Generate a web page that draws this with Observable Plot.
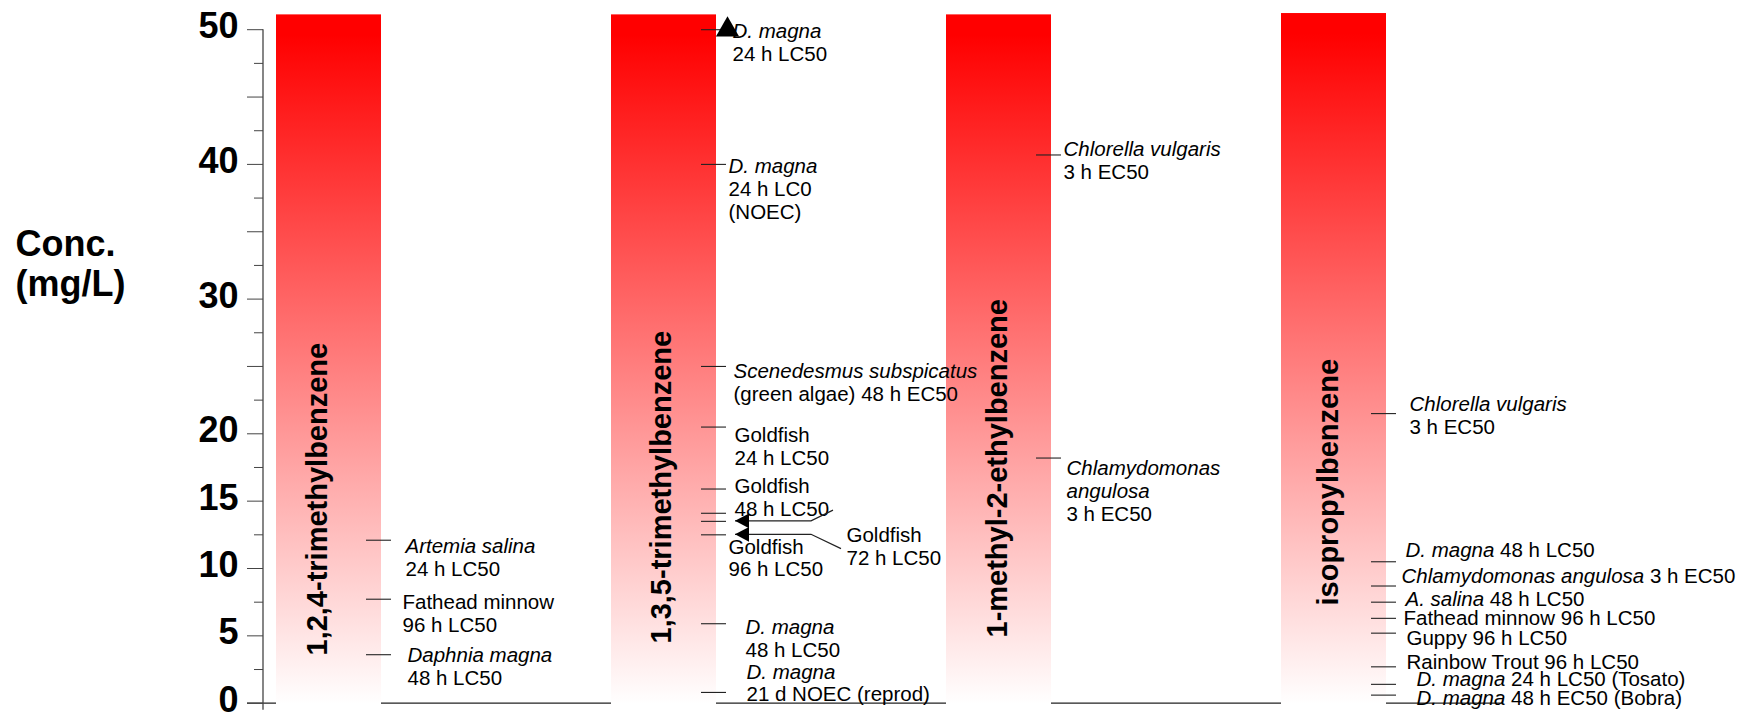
<!DOCTYPE html>
<html>
<head>
<meta charset="utf-8">
<script src="https://cdn.jsdelivr.net/npm/d3@7"></script>
<script src="https://cdn.jsdelivr.net/npm/@observablehq/plot@0.6"></script>
<style>
  html, body { margin: 0; padding: 0; background: #fff; overflow: hidden; }
  #chart svg { display: block; }
</style>
</head>
<body>
<div id="chart"></div>
<script>
// ---- Data ---------------------------------------------------------------
// One fading column per compound; each column spans 0 to just above 50 mg/L.
const compounds = ["1,2,4-trimethylbenzene", "1,3,5-trimethylbenzene", "1-methyl-2-ethylbenzene", "isopropylbenzene"];
const columnTop = [51.1, 51.1, 51.1, 51.2];

// Toxicity endpoints in mg/L. Text between underscores is set in italics.
const tmb124Values = [12.1, 7.72, 3.6];
const tmb124Labels = [
  "_Artemia salina_\n24 h LC50",
  "Fathead minnow\n96 h LC50",
  "_Daphnia magna_\n48 h LC50"
];

const tmb135Values = [50, 40, 25, 20.5, 15.9, 14.1, 13.5, 12.5, 5.9, 0.8];
const tmb135Labels = [
  "_D. magna_\n24 h LC50",
  "_D. magna_\n24 h LC0\n(NOEC)",
  "_Scenedesmus subspicatus_\n(green algae) 48 h EC50",
  "Goldfish\n24 h LC50",
  "Goldfish\n48 h LC50",
  "",
  "Goldfish\n72 h LC50",
  "Goldfish\n96 h LC50",
  "_D. magna_\n48 h LC50",
  "_D. magna_\n21 d NOEC (reprod)"
];

const meb12Values = [40.7, 18.2];
const meb12Labels = [
  "_Chlorella vulgaris_\n3 h EC50",
  "_Chlamydomonas_\n_angulosa_\n3 h EC50"
];

const cumeneValues = [21.5, 10.5, 8.7, 7.5, 6.3, 5.2, 2.7, 1.4, 0.6];
const cumeneLabels = [
  "_Chlorella vulgaris_\n3 h EC50",
  "_D. magna_ 48 h LC50",
  "_Chlamydomonas angulosa_ 3 h EC50",
  "_A. salina_ 48 h LC50",
  "Fathead minnow 96 h LC50",
  "Guppy 96 h LC50",
  "Rainbow Trout 96 h LC50",
  "_D. magna_ 24 h LC50 (Tosato)",
  "_D. magna_ 48 h EC50 (Bobra)"
];

// The goldfish 72 h label points at two values with arrows.
const goldfish72hTargets = [13.5, 12.5];
// Lower-bound result (> 50 mg/L), flagged with an upward triangle.
const lowerBoundCompound = [compounds[1]];
const lowerBoundValue = [50];

// Y axis ticks
const majorTicks = [0, 5, 10, 15, 20, 25, 30, 35, 40, 45, 50];
const minorTicks = [2.5, 7.5, 12.5, 17.5, 22.5, 27.5, 32.5, 37.5, 42.5, 47.5];
const labeledTicks = [0, 5, 10, 15, 20, 30, 40, 50];
const yTitle = "Conc.\n(mg/L)";

// ---- Layout -------------------------------------------------------------
const W = 1741, H = 713;
const barWidth = 105, barStep = 335.5, firstBarLeft = 275.5;
// Label placement per endpoint: [gap right of the column, vertical nudge of the first line]
const labelNudges = [
  [24, -2], [21, -5], [26, -7],
  [16, -6.6], [12, -5.7], [17, -3.3], [18, 0], [18, -10.4], [0, 0], [130, 6], [12, 4], [29, -4], [30, -28.6],
  [12, -14], [15, 2],
  [23, -17.7], [19, -19], [15, -17.7], [19, -11], [17, -7.6], [20, -2.7], [20, -12.7], [30, -13.3], [30, -5]
];
// Bent connectors for the 72 h arrows: [bend gap, end gap, end rise]
const arrowBends = [[95, 117, -10.7], [95, 125, 14.3]];
// Rotated compound names: lift above the baseline and sideways shift
const nameLift = [47.7, 59.7, 65.7, 97.7];
const nameShift = [-11, -2, -1.5, -5];

// ---- Tables for the marks -----------------------------------------------
const groups = [
  [compounds[0], tmb124Values, tmb124Labels],
  [compounds[1], tmb135Values, tmb135Labels],
  [compounds[2], meb12Values, meb12Labels],
  [compounds[3], cumeneValues, cumeneLabels]
];
const endpoints = groups.flatMap(([compound, values, labels]) =>
  values.map((value, i) => ({compound, value, label: labels[i]})));
endpoints.forEach((d, i) => { d.gap = labelNudges[i][0]; d.nudge = labelNudges[i][1]; });

const columns = compounds.map((compound, i) => ({compound, top: columnTop[i]}));
const lowerBounds = lowerBoundCompound.map((compound, i) => ({compound, value: lowerBoundValue[i]}));

const NS = "http://www.w3.org/2000/svg";

// Gradient fill, the y-axis spine and the bent arrows to the 72 h label.
function decorations(index, scales, values, dimensions) {
  const {x, y} = scales;
  const g = document.createElementNS(NS, "g");
  const ml = dimensions.marginLeft;
  const right = x(compounds[1]) + x.bandwidth();
  let html = `<defs><linearGradient id="column-fade" x1="0" y1="0" x2="0" y2="1">
      <stop offset="0" stop-color="#ff0000"/>
      <stop offset="0.03" stop-color="#ff0000"/>
      <stop offset="1" stop-color="#ffffff"/>
    </linearGradient></defs>`;
  html += `<line x1="${ml}" x2="${ml}" y1="${y(50)}" y2="${y(0) + 7}" stroke="#444" stroke-width="1.3"/>`;
  goldfish72hTargets.forEach((v, i) => {
    const yy = y(v);
    const [bend, end, rise] = arrowBends[i];
    html += `<path d="M${right + 19},${yy}H${right + bend}L${right + end},${yy + rise}" fill="none" stroke="#222" stroke-width="1.2"/>`;
    html += `<path d="M${right + 19},${yy}l14,-7.3v14.6z" fill="#000"/>`;
  });
  g.innerHTML = html;
  return g;
}

const chart = Plot.plot({
  width: W,
  height: H,
  marginLeft: 263,
  marginRight: 239,
  marginTop: 29.2,
  marginBottom: 10.3,
  style: {fontFamily: "'Liberation Sans', Arial, sans-serif", fontSize: "20.5px", color: "#000", background: "#fff"},
  x: {
    type: "band",
    domain: compounds,
    range: [firstBarLeft, firstBarLeft + 3 * barStep + barWidth],
    paddingInner: 1 - barWidth / barStep,
    paddingOuter: 0,
    axis: null
  },
  y: {domain: [0, 50], label: null, axis: null},
  marks: [
    Plot.ruleY([0], {stroke: "#222", strokeWidth: 1.3, insetLeft: -16}),
    Plot.barY(columns, {x: "compound", y: "top", fill: "url(#column-fade)", insetBottom: -1.5}),
    Plot.axisY({ticks: minorTicks, tickSize: 9, tickFormat: () => "", stroke: "#444", label: null}),
    Plot.axisY({ticks: majorTicks, tickSize: 16, tickFormat: () => "", stroke: "#444", label: null}),
    Plot.axisY({
      ticks: labeledTicks, tickSize: 0, tickPadding: 25, dy: -3,
      fontSize: 36, fontWeight: "bold", label: null
    }),
    Plot.text([yTitle], {
      frameAnchor: "top-left", text: d => d, textAnchor: "start", lineAnchor: "top",
      dx: -248, dy: 197.5, fontSize: 36, fontWeight: "bold", lineHeight: 1.11
    }),
    ...columns.map((c, i) => Plot.text([c], {
      x: "compound", frameAnchor: "bottom", text: "compound", rotate: -90,
      textAnchor: "start", lineAnchor: "middle", dx: nameShift[i], dy: -nameLift[i],
      fontSize: 29, fontWeight: "bold"
    })),
    Plot.tickY(endpoints, {
      x: "compound", y: "value", insetLeft: barWidth - 15, insetRight: -10,
      stroke: "#222", strokeWidth: 1.1
    }),
    ...endpoints.filter(d => d.label).map(d => Plot.text([d], {
      x: "compound", y: "value", text: "label", textAnchor: "start", lineAnchor: "top",
      lineHeight: 1.12, fontSize: 20.5, dx: barWidth / 2 + d.gap, dy: d.nudge - 1.6
    })),
    Plot.dot(lowerBounds, {
      x: "compound", y: "value", symbol: "triangle", r: 8.6, fill: "#000", stroke: "none",
      dx: barWidth / 2 + 11
    }),
    decorations
  ]
});

// Turn _underscored_ runs into italic tspans.
function applyItalics(root) {
  for (const el of Array.from(root.querySelectorAll("text, tspan"))) {
    if (el.children.length) continue;
    const s = el.textContent;
    if (!s.includes("_")) continue;
    el.textContent = "";
    s.split("_").forEach((part, i) => {
      if (!part) return;
      const t = document.createElementNS(NS, "tspan");
      if (i % 2) t.setAttribute("font-style", "italic");
      t.textContent = part;
      el.appendChild(t);
    });
  }
}
applyItalics(chart);

document.getElementById("chart").appendChild(chart);
</script>
</body>
</html>
